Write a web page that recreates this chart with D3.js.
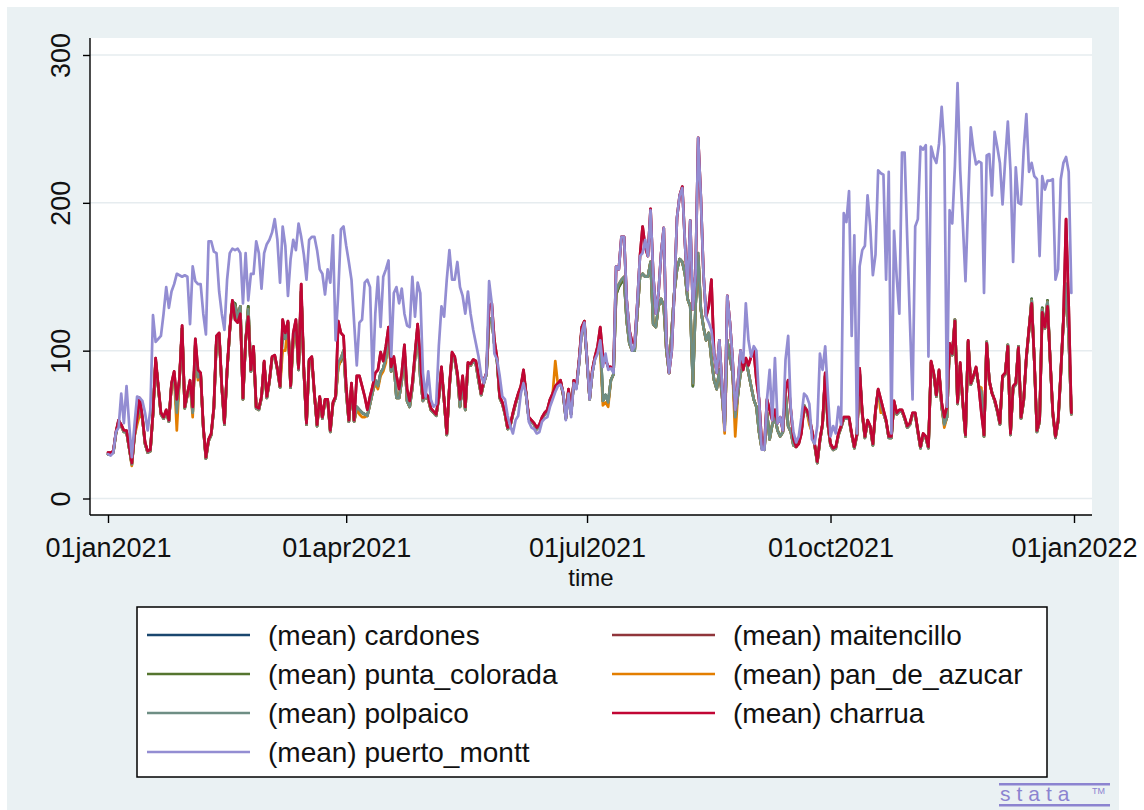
<!DOCTYPE html>
<html>
<head>
<meta charset="utf-8">
<script src="https://cdn.jsdelivr.net/npm/d3@7"></script>
<style>
  body { margin: 0; background: #ffffff; }
  svg { display: block; }
  text { font-family: "Liberation Sans", Arial, Helvetica, sans-serif; fill: #111; }
</style>
</head>
<body>
<svg id="chart" width="1144" height="810"></svg>
<script>
// Daily means for 2021, one array per station.
const firstDay = "2021-01-01";
const lastDay = "2022-01-01";
const xTickDates = ["2021-01-01", "2021-04-01", "2021-07-01", "2021-10-01", "2022-01-01"];
const xTickLabels = ["01jan2021", "01apr2021", "01jul2021", "01oct2021", "01jan2022"];
const yTicks = [0, 100, 200, 300];
const yTickLabels = ["0", "100", "200", "300"];
const xTitle = "time";

const seriesKeys = ["cardones", "maitencillo", "punta_colorada", "pan_de_azucar", "polpaico", "charrua", "puerto_montt"];
const seriesLabels = ["(mean) cardones", "(mean) maitencillo", "(mean) punta_colorada", "(mean) pan_de_azucar",
                      "(mean) polpaico", "(mean) charrua", "(mean) puerto_montt"];
const seriesColors = ["#1a476f", "#90353b", "#55752f", "#e37e00", "#6e8e84", "#c10534", "#938dd2"];

const cardones = [30,30,31,44,52,49,45,45,34,23,
42,54,62,54,37,31,32,57,93,75,
57,54,59,52,77,84,58,80,115,61,
70,78,58,104,82,84,48,27,39,43,
61,108,111,75,50,86,113,133,132,122,
130,67,106,130,86,101,61,60,68,92,
68,79,95,96,87,75,115,108,119,75,
108,118,87,140,86,50,93,95,70,49,
68,54,66,66,45,64,68,90,93,100,
72,52,75,52,62,60,58,57,56,64,
72,80,76,85,88,95,112,86,92,68,
68,80,100,66,62,75,95,115,82,66,
69,67,60,58,56,68,87,66,43,75,
97,94,83,62,78,60,90,90,93,91,
80,70,78,84,120,122,104,93,68,64,
57,47,49,57,64,70,75,85,70,54,
52,50,47,49,54,57,59,66,70,75,
77,79,70,54,73,57,79,75,92,114,
118,93,67,85,95,100,108,66,70,65,
80,84,138,143,146,148,120,105,100,100,
125,150,152,150,150,160,118,116,130,135,
130,100,85,114,140,155,162,160,152,135,
130,76,130,164,128,116,107,112,94,80,
74,87,70,48,107,95,85,55,70,85,
89,94,85,76,67,62,45,34,33,58,
40,50,55,46,42,45,71,49,45,36,
35,38,46,63,59,53,45,36,24,39,
50,83,50,36,33,34,43,48,54,54,
54,43,34,43,85,57,41,52,48,36,
59,73,64,58,52,41,41,65,57,59,
59,54,48,50,57,57,45,34,43,41,
34,92,84,69,86,62,50,55,104,97,
121,64,90,64,42,106,77,82,88,76,
72,42,106,79,72,66,59,50,82,84,
104,43,75,77,103,54,66,95,114,135,
93,45,52,129,115,134,93,57,41,52,
84,120,145,110,57];

const maitencillo = [31,31,32,45,53,50,46,46,35,24,
43,55,68,55,38,32,33,58,95,76,
58,55,60,53,78,86,67,81,117,62,
71,80,62,108,87,85,49,28,40,44,
62,110,112,76,51,87,114,134,121,119,
125,68,107,123,87,103,62,61,69,93,
69,80,96,97,88,76,121,112,120,76,
112,121,88,145,87,51,94,96,71,50,
69,55,67,67,46,65,69,120,112,110,
76,53,78,53,83,83,76,69,60,69,
76,85,87,99,93,103,116,89,96,83,
74,85,104,74,66,78,98,118,96,68,
71,69,61,59,57,69,89,67,44,76,
99,96,85,67,83,62,92,91,94,93,
83,71,80,85,130,132,107,95,69,65,
58,48,50,58,65,71,76,87,71,55,
53,51,48,50,55,58,60,67,71,76,
78,80,71,55,74,58,80,76,94,116,
120,94,68,87,96,103,116,96,94,89,
89,87,157,155,177,177,134,114,106,105,
132,164,184,170,164,196,152,125,139,166,
183,107,85,100,140,190,205,211,173,141,
188,128,152,244,204,152,123,130,148,98,
85,107,78,50,137,119,94,60,78,100,
87,95,90,96,100,80,67,38,36,67,
60,53,60,51,55,46,74,80,60,40,
35,37,44,62,60,55,46,37,25,40,
51,85,51,37,34,35,44,49,55,55,
55,44,35,44,88,58,42,53,49,37,
60,74,67,60,53,42,42,66,58,60,
60,55,49,51,58,58,46,35,44,42,
35,93,85,70,87,65,55,62,105,98,
120,65,92,65,43,107,78,83,89,76,
58,43,105,80,71,67,60,51,83,85,
103,44,76,78,102,55,67,96,115,132,
94,46,53,126,116,130,94,58,42,53,
85,121,189,130,58];

const punta_colorada = [30,30,31,44,52,49,45,45,34,23,
42,54,62,54,37,31,32,57,93,75,
57,54,59,52,77,84,58,80,115,61,
70,78,58,104,82,84,48,27,39,43,
61,108,111,75,50,86,113,133,132,122,
130,67,106,130,86,101,61,60,68,92,
68,79,95,96,87,75,115,108,119,75,
108,118,87,140,86,50,93,95,70,49,
68,54,66,66,45,64,68,90,93,100,
72,52,75,52,62,60,58,57,56,64,
72,80,76,85,88,95,112,86,92,68,
68,80,100,66,62,75,95,115,82,66,
69,67,60,58,56,68,87,66,43,75,
97,94,83,62,78,60,90,90,93,91,
80,70,78,84,120,122,104,93,68,64,
57,47,49,57,64,70,75,85,70,54,
52,50,47,49,54,57,59,66,70,75,
77,79,70,54,73,57,79,75,92,114,
118,93,67,85,95,100,108,66,70,65,
80,84,138,143,146,148,120,105,100,100,
125,150,152,150,150,160,118,116,130,135,
130,100,85,114,140,155,162,160,152,135,
130,76,130,164,128,116,107,112,94,80,
74,87,70,48,107,95,85,55,70,85,
89,94,85,76,67,62,45,34,33,58,
40,50,55,46,42,45,71,49,45,36,
35,38,46,63,59,53,45,36,24,39,
50,83,50,36,33,34,43,48,54,54,
54,43,34,43,85,57,41,52,48,36,
59,73,64,58,52,41,41,65,57,59,
59,54,48,50,57,57,45,34,43,41,
34,92,84,69,86,62,50,55,104,97,
121,64,90,64,42,106,77,82,88,76,
72,42,106,79,72,66,59,50,82,84,
104,43,75,77,103,54,66,95,114,135,
93,45,52,129,115,134,93,57,41,52,
84,120,145,110,57];

const pan_de_azucar = [30,30,31,44,52,49,45,45,34,22,
42,50,57,54,37,31,32,57,93,75,
57,54,59,52,77,84,46,80,115,61,
70,78,55,104,80,84,48,27,39,43,
61,108,111,75,50,86,113,133,130,122,
130,67,106,128,86,101,61,60,68,92,
68,79,95,96,87,75,100,100,119,75,
105,118,87,140,86,50,93,95,70,49,
68,54,66,66,45,64,68,88,95,100,
72,52,75,52,60,57,55,55,56,64,
72,78,74,83,86,92,112,86,92,68,
68,80,100,66,62,75,95,115,82,66,
69,67,60,58,56,68,87,66,43,75,
97,94,83,62,78,60,90,90,93,91,
80,70,78,84,120,122,104,93,68,64,
57,47,49,57,64,70,75,85,70,54,
52,50,47,49,54,57,59,66,70,93,
77,79,70,54,73,57,79,75,92,114,
118,93,67,85,95,100,100,63,65,62,
80,84,140,145,148,150,120,105,100,100,
125,150,152,150,150,160,118,116,130,135,
130,100,85,114,140,155,162,160,152,135,
130,78,130,166,128,116,107,112,94,80,
74,87,70,44,107,95,85,42,70,85,
89,94,85,76,67,62,45,34,33,58,
40,50,55,46,42,45,71,49,45,36,
35,38,46,63,59,50,45,36,24,39,
50,83,50,36,33,34,43,48,54,54,
54,43,34,43,78,57,41,52,48,36,
59,73,58,58,52,41,41,65,57,59,
59,54,48,50,57,57,45,34,43,41,
34,92,84,69,86,62,48,55,104,97,
121,64,90,64,42,106,77,82,88,76,
75,42,106,78,72,66,59,50,82,84,
104,43,75,77,103,54,66,95,114,134,
93,45,52,128,115,133,93,57,41,52,
84,120,145,110,57];

const polpaico = [30,30,31,44,52,49,45,45,34,23,
42,54,62,54,37,31,32,57,93,75,
57,54,59,52,77,84,58,80,115,61,
70,78,58,104,82,84,48,27,39,43,
61,108,111,75,50,86,113,133,130,122,
130,67,106,128,86,101,61,60,68,92,
68,79,95,96,87,75,115,108,119,75,
108,118,87,140,86,50,93,95,70,49,
68,54,66,66,45,64,68,92,95,100,
72,52,75,52,62,60,58,57,56,64,
72,80,76,85,88,95,112,86,92,68,
68,80,100,66,62,75,95,115,82,66,
69,67,60,58,56,68,87,66,43,75,
97,94,83,62,78,60,90,90,93,91,
80,70,78,84,120,122,104,93,68,64,
57,47,49,57,64,70,75,85,70,54,
52,50,47,49,54,57,59,66,70,75,
77,79,70,54,73,57,79,75,92,114,
118,93,67,85,95,100,108,66,70,65,
80,84,140,145,148,150,120,105,100,100,
125,150,152,150,150,160,118,116,130,135,
130,100,85,114,140,155,162,160,152,135,
130,78,130,166,128,116,107,112,94,80,
74,87,70,48,107,95,85,55,70,85,
89,94,85,76,67,62,45,34,33,58,
40,50,55,46,42,45,71,49,45,36,
35,38,46,63,59,53,45,36,24,39,
50,83,50,36,33,34,43,48,54,54,
54,43,34,43,85,57,41,52,48,36,
59,73,64,58,52,41,41,65,57,59,
59,54,48,50,57,57,45,34,43,41,
34,92,84,69,86,62,50,55,104,97,
121,64,90,64,42,106,77,82,88,76,
72,42,106,79,72,66,59,50,82,84,
104,43,75,77,103,54,66,95,114,134,
93,45,52,128,115,133,93,57,41,52,
84,120,145,110,57];

const charrua = [31,31,32,45,53,50,46,46,35,24,
43,55,68,55,38,32,33,58,95,76,
58,55,60,53,78,86,67,81,117,62,
71,80,62,108,87,85,49,28,40,44,
62,110,112,76,51,87,114,134,121,119,
125,68,107,123,87,103,62,61,69,93,
69,80,96,97,88,76,121,112,120,76,
112,121,88,145,87,51,94,96,71,50,
69,55,67,67,46,65,69,120,112,110,
76,53,78,53,83,83,76,69,60,69,
76,85,87,99,93,103,116,89,96,83,
74,85,104,74,66,78,98,118,96,68,
71,69,61,59,57,69,89,67,44,76,
99,96,85,67,83,62,92,91,94,93,
83,71,80,85,130,132,107,95,69,65,
58,48,50,58,65,71,76,87,71,55,
53,51,48,50,55,58,60,67,71,76,
78,80,71,55,74,58,80,76,94,116,
120,94,68,87,96,103,116,96,94,89,
89,87,157,155,177,177,134,114,106,105,
132,164,184,170,164,196,152,125,139,166,
183,107,85,100,140,190,205,211,173,141,
188,128,152,244,204,152,123,130,148,98,
85,107,78,50,137,119,94,60,78,100,
87,95,90,96,100,80,67,38,36,67,
60,53,60,51,55,46,74,80,60,40,
35,37,44,62,60,55,46,37,25,40,
51,85,51,37,34,35,44,49,55,55,
55,44,35,44,88,58,42,53,49,37,
60,74,67,60,53,42,42,66,58,60,
60,55,49,51,58,58,46,35,44,42,
35,93,85,70,87,65,55,62,105,98,
120,65,92,65,43,107,78,83,89,76,
58,43,105,80,71,67,60,51,83,85,
103,44,76,78,102,55,67,96,115,132,
94,46,53,126,116,130,94,58,42,53,
85,121,189,130,58];

const puerto_montt = [30,29,31,45,48,71,51,76,50,28,
50,69,68,66,58,46,60,124,106,108,
110,125,143,129,140,145,152,151,150,151,
150,118,157,147,145,145,125,111,174,174,
167,166,140,125,114,148,166,169,168,169,
166,132,166,134,152,152,174,166,142,166,
172,175,180,189,175,146,184,171,137,162,
175,168,186,177,165,148,175,177,177,168,
155,152,138,155,146,178,107,139,182,184,
171,160,148,119,90,119,121,146,148,143,
80,125,150,116,150,155,161,96,139,143,
132,142,125,117,116,150,123,146,139,85,
69,86,67,62,64,103,130,123,148,168,
148,148,160,143,137,125,140,125,114,105,
96,83,78,85,147,132,98,94,83,69,
67,56,49,44,53,56,71,78,70,52,
48,47,44,45,52,54,55,62,67,72,
76,77,72,53,71,55,78,74,92,112,
119,94,67,85,94,98,107,89,98,87,
88,85,157,155,177,177,134,114,100,103,
132,164,166,175,164,195,152,125,139,166,
183,107,85,100,140,190,205,210,173,141,
188,128,152,244,204,152,123,119,114,98,
85,107,78,46,137,119,94,60,78,100,
92,132,107,96,103,100,67,33,33,67,
87,53,95,51,55,46,94,110,60,45,
38,42,55,71,69,64,40,37,49,98,
87,103,71,42,49,44,62,50,193,187,
208,110,178,44,157,168,171,205,184,151,
165,222,220,219,148,221,44,181,150,125,
234,234,175,120,67,184,189,238,236,239,
96,238,231,227,240,265,238,62,195,186,
225,281,222,186,147,200,251,236,226,228,
227,139,232,233,205,248,238,227,199,229,
255,222,160,224,200,199,236,260,221,227,
218,216,164,218,209,215,215,216,148,155,
216,227,231,221,139];

const seriesValues = [cardones, maitencillo, punta_colorada, pan_de_azucar, polpaico, charrua, puerto_montt];

// ---- drawing ----
const svg = d3.select("#chart");
const parse = d3.timeParse("%Y-%m-%d");
const dates = d3.timeDay.range(parse(firstDay), parse(lastDay));

const plot = { left: 90, right: 1092, top: 38, bottom: 515 };
const x = d3.scaleTime().domain([parse(firstDay), parse(lastDay)]).range([108, 1074]);
const y = d3.scaleLinear().domain([0, 300]).range([498.5, 55]);

// graph region and plot region backgrounds
svg.append("rect").attr("x", 7).attr("y", 7).attr("width", 1112).attr("height", 803).attr("fill", "#eaf1f3");
svg.append("rect").attr("x", plot.left).attr("y", plot.top)
  .attr("width", plot.right - plot.left).attr("height", plot.bottom - plot.top).attr("fill", "#ffffff");

// horizontal grid
svg.append("g").selectAll("line").data(yTicks).join("line")
  .attr("x1", plot.left).attr("x2", plot.right)
  .attr("y1", d => y(d)).attr("y2", d => y(d))
  .attr("stroke", "#e6ecef").attr("stroke-width", 1.5);

// series lines, drawn in legend order so puerto_montt ends up on top
const line = d3.line().x((d, i) => x(dates[i])).y(d => y(d));
svg.append("g").selectAll("path").data(seriesValues).join("path")
  .attr("d", d => line(d))
  .attr("fill", "none")
  .attr("stroke", (d, i) => seriesColors[i])
  .attr("stroke-width", 2.7)
  .attr("stroke-linejoin", "round")
  .attr("stroke-linecap", "round");

// y axis
const yAxis = svg.append("g").attr("transform", `translate(${plot.left},0)`)
  .call(d3.axisLeft(y).tickValues(yTicks).tickSize(7).tickSizeOuter(0)
        .tickFormat((d, i) => yTickLabels[i]));
yAxis.select(".domain").attr("d", `M0,${plot.top}V${plot.bottom}`).attr("stroke", "#000").attr("stroke-width", 1.4);
yAxis.selectAll(".tick line").attr("stroke", "#000").attr("stroke-width", 1.4);
yAxis.selectAll(".tick text")
  .attr("font-size", 27).attr("fill", "#111")
  .attr("text-anchor", "middle")
  .attr("x", 0).attr("dy", 0)
  .attr("transform", "translate(-20,0) rotate(-90)");

// x axis
const xAxis = svg.append("g").attr("transform", `translate(0,${plot.bottom})`)
  .call(d3.axisBottom(x).tickValues(xTickDates.map(parse)).tickSize(8).tickSizeOuter(0)
        .tickFormat((d, i) => xTickLabels[i]));
xAxis.select(".domain").attr("d", `M${plot.left},0H${plot.right}`).attr("stroke", "#000").attr("stroke-width", 1.4);
xAxis.selectAll(".tick line").attr("stroke", "#000").attr("stroke-width", 1.4);
xAxis.selectAll(".tick text")
  .attr("font-size", 27).attr("fill", "#111")
  .attr("y", 42).attr("dy", 0);

svg.append("text").attr("x", 591).attr("y", 586).attr("text-anchor", "middle")
  .attr("font-size", 24).text(xTitle);

// legend
const legend = svg.append("g");
legend.append("rect").attr("x", 137).attr("y", 607).attr("width", 910).attr("height", 170)
  .attr("fill", "#ffffff").attr("stroke", "#000").attr("stroke-width", 1.5);
const rowY = [635, 674, 713, 752];
const colX = [147, 612];
const items = legend.selectAll("g.item").data(seriesLabels).join("g").attr("class", "item")
  .attr("transform", (d, i) => `translate(${colX[i % 2]},${rowY[Math.floor(i / 2)]})`);
items.append("line").attr("x1", 0).attr("x2", 103).attr("y1", 0).attr("y2", 0)
  .attr("stroke", (d, i) => seriesColors[i]).attr("stroke-width", 2.4);
items.append("text").attr("x", 121).attr("y", 9.5).attr("font-size", 28).text(d => d);

// stata mark
const mark = svg.append("g").attr("fill", "#8c84d0");
mark.append("rect").attr("x", 999).attr("y", 783).attr("width", 111).attr("height", 2.5);
mark.append("rect").attr("x", 999).attr("y", 804).attr("width", 111).attr("height", 2.5);
mark.append("text").attr("x", 1000).attr("y", 801).attr("font-size", 21)
  .attr("font-family", "DejaVu Sans").attr("letter-spacing", 6).style("fill", "#8c84d0")
  .text("stata");
mark.append("text").attr("x", 1092).attr("y", 794).attr("font-size", 9)
  .attr("font-family", "DejaVu Sans").style("fill", "#8c84d0").text("TM");
</script>
</body>
</html>
